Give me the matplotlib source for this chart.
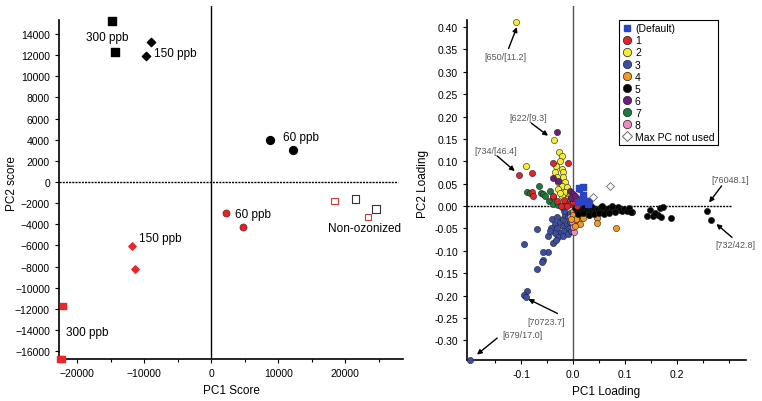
import matplotlib.pyplot as plt
from matplotlib.lines import Line2D
from matplotlib.ticker import MultipleLocator, FuncFormatter

plt.rcParams['font.family'] = ['Liberation Sans', 'DejaVu Sans']

# ---- left panel: PCA scores ----
black_sq_x = [-14800, -14300]
black_sq_y = [15200, 12300]
black_dia_x = [-9000, -9700]
black_dia_y = [13200, 11900]
black_circ_x = [8800, 12200]
black_circ_y = [4000, 3000]
red_circ_x = [2200, 4800]
red_circ_y = [-2900, -4300]
red_dia_x = [-11800, -11300]
red_dia_y = [-6050, -8200]
red_sq_x = [-22100, -22200, -22500]
red_sq_y = [-11700, -16750, -16750]
nonoz_black_x = [21500, 24600]
nonoz_black_y = [-1600, -2550]
nonoz_red_x = [18400, 23400]
nonoz_red_y = [-1800, -3300]

score_labels = [("300 ppb", -18700, 13700), ("150 ppb", -8600, 12200),
                ("60 ppb", 10700, 4300), ("60 ppb", 3600, -3050),
                ("150 ppb", -10700, -5300), ("300 ppb", -21600, -14200),
                ("Non-ozonized", 17400, -4400)]

# ---- right panel: PCA loadings by cluster ----
yellow_x = [-0.110, -0.037, -0.090, -0.027, -0.021, -0.025, -0.033, -0.035, -0.021,
            -0.019, -0.031, -0.019, -0.029, -0.015, -0.021, -0.012, -0.029, -0.015,
            -0.008, -0.021, -0.012, -0.010, -0.025, -0.005, -0.017]
yellow_y = [0.411, 0.148, 0.089, 0.121, 0.112, 0.101, 0.090, 0.076, 0.083,
            0.076, 0.065, 0.065, 0.054, 0.054, 0.045, 0.042, 0.038, 0.031,
            0.022, 0.022, 0.016, 0.011, 0.030, 0.030, 0.005]
red_x = [-0.104, -0.079, -0.038, -0.010, 0.012, -0.079, -0.077, -0.038, -0.015,
         -0.006, 0.000, 0.008, -0.012, -0.024, -0.003, -0.030, 0.005, -0.018]
red_y = [0.069, 0.074, 0.096, 0.096, 0.038, 0.031, 0.022, 0.022, 0.009,
         0.004, 0.009, 0.000, -0.001, 0.001, 0.018, 0.012, 0.015, 0.014]
green_x = [-0.065, -0.088, -0.062, -0.044, -0.046, -0.038, -0.058, -0.038,
           -0.028, -0.022, -0.053, -0.082]
green_y = [0.045, 0.031, 0.029, 0.034, 0.011, 0.020, 0.027, 0.004,
           0.003, -0.002, 0.022, 0.030]
purple_x = [-0.031, -0.038, -0.006, 0.000, -0.004, 0.004, -0.028]
purple_y = [0.165, 0.063, 0.034, 0.027, 0.018, 0.022, 0.055]
default_x = [0.012, 0.019, 0.017, 0.023, 0.010, 0.028, 0.020, 0.031]
default_y = [0.040, 0.042, 0.016, 0.011, 0.009, 0.004, 0.024, 0.012]
unused_x = [0.071, 0.038]
unused_y = [0.045, 0.020]
black_x = [0.003, 0.008, 0.012, 0.015, 0.018, 0.021, 0.024, 0.027, 0.030, 0.033,
           0.036, 0.039, 0.042, 0.045, 0.048, 0.051, 0.054, 0.057, 0.060, 0.063,
           0.066, 0.069, 0.072, 0.075, 0.078, 0.081, 0.084, 0.087, 0.090, 0.094,
           0.098, 0.103, 0.108, 0.113,
           0.010, 0.020, 0.030, 0.040, 0.050, 0.060, 0.070, 0.080, 0.035, 0.055,
           0.075, 0.025,
           0.111, 0.142, 0.148, 0.154, 0.163, 0.167, 0.173, 0.169, 0.188, 0.158,
           0.257, 0.265]
black_y = [-0.004, -0.010, -0.006, -0.014, -0.008, -0.003, -0.012, -0.007, -0.015, -0.005,
           -0.011, -0.004, -0.013, -0.008, -0.006, -0.012, -0.003, -0.009, -0.014, -0.006,
           -0.010, -0.004, -0.012, -0.008, -0.005, -0.011, -0.007, -0.003, -0.009, -0.012,
           -0.006, -0.010, -0.005, -0.013,
           -0.018, -0.016, -0.019, -0.017, -0.015, -0.018, -0.016, -0.014, -0.001, 0.000,
           -0.001, 0.001,
           -0.014, -0.022, -0.009, -0.022, -0.020, -0.005, -0.002, -0.025, -0.027, -0.016,
           -0.012, -0.031]
orange_x = [0.000, 0.014, 0.010, 0.017, 0.000, 0.010, 0.014, 0.004, 0.019, 0.046,
            0.046, 0.083, 0.006, 0.020, 0.026, -0.004, 0.030]
orange_y = [-0.011, -0.015, -0.022, -0.017, -0.020, -0.033, -0.040, -0.045, -0.007, -0.027,
            -0.038, -0.050, -0.028, -0.026, -0.012, -0.030, -0.020]
pink_x = [0.002, -0.002, 0.000, -0.006, 0.004]
pink_y = [-0.058, -0.036, -0.047, -0.024, -0.017]
blue_x = [-0.198, -0.094, -0.069, -0.048, -0.038, -0.048, -0.058, -0.058, -0.060,
          -0.069, -0.088, -0.094, -0.091,
          -0.040, -0.035, -0.030, -0.025, -0.020, -0.015, -0.010, -0.030, -0.020,
          -0.012, -0.005, -0.025, -0.017, -0.008, -0.035, -0.042, -0.028, -0.020,
          -0.010, -0.005, -0.018, -0.003, -0.033, -0.045]
blue_y = [-0.344, -0.084, -0.052, -0.067, -0.083, -0.103, -0.103, -0.120, -0.126,
          -0.141, -0.190, -0.198, -0.203,
          -0.030, -0.040, -0.025, -0.035, -0.030, -0.020, -0.025, -0.050, -0.045,
          -0.040, -0.035, -0.060, -0.055, -0.050, -0.060, -0.048, -0.070, -0.068,
          -0.062, -0.015, -0.010, -0.055, -0.075, -0.056]

# (text, text_x, text_y, tip_x, tip_y, arrow_start_x, arrow_start_y)
loading_notes = [("[650/[11.2]", -0.130, 0.335, -0.108, 0.400, -0.124, 0.352),
                 ("[622/[9.3]", -0.087, 0.198, -0.048, 0.157, -0.080, 0.185),
                 ("[734/[46.4]", -0.148, 0.124, -0.112, 0.078, -0.146, 0.112),
                 ("[76048.1]", 0.302, 0.060, 0.262, 0.008, 0.286, 0.045),
                 ("[732/42.8]", 0.313, -0.087, 0.276, -0.040, 0.306, -0.070),
                 ("[70723.7]", -0.052, -0.257, -0.086, -0.208, -0.030, -0.240),
                 ("[679/17.0]", -0.098, -0.286, -0.185, -0.332, -0.146, -0.295)]

fig = plt.figure(figsize=(7.62, 4.02), dpi=100)

# ---------------- left ----------------
ax1 = fig.add_axes([0.0774, 0.1045, 0.4514, 0.878])
ax1.set_xlim(-22700, 28600)
ax1.set_ylim(-16750, 16650)
ax1.axvline(0, color='black', lw=1.0, zorder=1)
ax1.plot([-22700, 27800], [0, 0], color='black', lw=1.0, ls=(0, (1.5, 0.8)), zorder=1)

ax1.scatter(black_sq_x, black_sq_y, marker='s', s=30, color='black', zorder=3)
ax1.scatter(black_dia_x, black_dia_y, marker='D', s=18, color='black', zorder=3)
ax1.scatter(black_circ_x, black_circ_y, marker='o', s=32, color='black', zorder=3)
ax1.scatter(red_circ_x, red_circ_y, marker='o', s=26, color='#d8262c',
            edgecolor='#8a1a1a', lw=0.5, zorder=3)
ax1.scatter(red_dia_x, red_dia_y, marker='D', s=14, color='#e8262c', zorder=3)
ax1.scatter(red_sq_x, red_sq_y, marker='s', s=24, color='#e8262c', zorder=3, clip_on=False)
ax1.scatter(nonoz_black_x, nonoz_black_y, marker='s', s=30, facecolor='none',
            edgecolor='#333333', lw=0.8, zorder=3)
ax1.scatter(nonoz_red_x, nonoz_red_y, marker='s', s=22, facecolor='none',
            edgecolor='#c8403c', lw=0.8, zorder=3)
for txt, tx, ty in score_labels:
    ax1.text(tx, ty, txt, fontsize=8.5, va='center', ha='left')

ax1.spines['top'].set_visible(False)
ax1.spines['right'].set_visible(False)
ax1.spines['left'].set_bounds(-16750, 15300)
ax1.spines['left'].set_linewidth(1.2)
ax1.spines['bottom'].set_linewidth(1.2)
ax1.set_yticks(range(-16000, 14001, 2000))
ax1.set_xticks([-20000, -10000, 0, 10000, 20000])
ax1.xaxis.set_minor_locator(MultipleLocator(5000))
ax1.tick_params(labelsize=7.5, length=3, width=0.8)
ax1.tick_params(which='minor', length=2, width=0.8)
ax1.set_xlabel("PC1 Score", fontsize=8.5)
ax1.set_ylabel("PC2 score", fontsize=8.5, labelpad=-2)

# ---------------- right ----------------
ax2 = fig.add_axes([0.6129, 0.102, 0.3661, 0.8806])
ax2.set_xlim(-0.204, 0.333)
ax2.set_ylim(-0.344, 0.447)
ax2.axvline(0, color='#555555', lw=1.0, zorder=1)
ax2.plot([-0.204, 0.306], [0, 0], color='black', lw=1.0, ls=(0, (1.5, 0.8)), zorder=1)

edge = dict(edgecolor='#222222', linewidths=0.4, s=20, zorder=3)
ax2.scatter(blue_x, blue_y, color='#3a4ea6', clip_on=False, **edge)
ax2.scatter(pink_x, pink_y, color='#f08cc0', **edge)
ax2.scatter(orange_x, orange_y, color='#f39a1f', **edge)
ax2.scatter(black_x, black_y, color='black', **edge)
ax2.scatter(green_x, green_y, color='#1c7b3c', **edge)
ax2.scatter(yellow_x, yellow_y, color='#f4ee2e', **edge)
ax2.scatter(red_x, red_y, color='#e0242a', **edge)
ax2.scatter(purple_x, purple_y, color='#6b1f7b', **edge)
ax2.scatter(default_x, default_y, marker='s', color='#2a44c8', s=18, zorder=3)
ax2.scatter(unused_x, unused_y, marker='D', facecolor='white', edgecolor='#666666',
            s=16, linewidths=0.6, zorder=3)

for txt, tx, ty, px, py, sx, sy in loading_notes:
    ax2.text(tx, ty, txt, fontsize=6.5, color='#555555', ha='center', va='center')
    ax2.annotate("", xy=(px, py), xytext=(sx, sy),
                 arrowprops=dict(arrowstyle='-|>', color='black', lw=1.0,
                                 mutation_scale=7, shrinkA=0, shrinkB=0))

ax2.spines['top'].set_visible(False)
ax2.spines['right'].set_visible(False)
ax2.spines['left'].set_bounds(-0.344, 0.416)
ax2.spines['left'].set_linewidth(1.2)
ax2.spines['bottom'].set_linewidth(1.2)
ax2.set_yticks([-0.30, -0.25, -0.20, -0.15, -0.10, -0.05, 0.0, 0.05, 0.10,
                0.15, 0.20, 0.25, 0.30, 0.35, 0.40])
ax2.yaxis.set_major_formatter(FuncFormatter(lambda v, p: f"{v:.2f}"))
ax2.set_xticks([-0.1, 0.0, 0.1, 0.2])
ax2.xaxis.set_major_formatter(FuncFormatter(lambda v, p: f"{v:.1f}"))
ax2.xaxis.set_minor_locator(MultipleLocator(0.05))
ax2.tick_params(labelsize=7.5, length=3, width=0.8)
ax2.tick_params(which='minor', length=2, width=0.8)
ax2.set_xlabel("PC1 Loading", fontsize=8.5)
ax2.set_ylabel("PC2 Loading", fontsize=8.5)

handles = [Line2D([], [], marker='s', color='#2a44c8', ls='', markersize=5),
           Line2D([], [], marker='o', color='#e0242a', mec='#222222', mew=0.5, ls='', markersize=6),
           Line2D([], [], marker='o', color='#f4ee2e', mec='#222222', mew=0.5, ls='', markersize=6),
           Line2D([], [], marker='o', color='#3a4ea6', mec='#222222', mew=0.5, ls='', markersize=6),
           Line2D([], [], marker='o', color='#f39a1f', mec='#222222', mew=0.5, ls='', markersize=6),
           Line2D([], [], marker='o', color='black', mec='#222222', mew=0.5, ls='', markersize=6),
           Line2D([], [], marker='o', color='#6b1f7b', mec='#222222', mew=0.5, ls='', markersize=6),
           Line2D([], [], marker='o', color='#1c7b3c', mec='#222222', mew=0.5, ls='', markersize=6),
           Line2D([], [], marker='o', color='#f08cc0', mec='#222222', mew=0.5, ls='', markersize=6),
           Line2D([], [], marker='D', mfc='white', mec='#666666', mew=0.7, ls='', markersize=5)]
names = ["(Default)", "1", "2", "3", "4", "5", "6", "7", "8", "Max PC not used"]
leg = ax2.legend(handles, names, loc='upper left', bbox_to_anchor=(0.546, 0.96),
                 fontsize=7.5, frameon=True, fancybox=False, edgecolor='black',
                 framealpha=1, borderpad=0.3, labelspacing=0.2, handlelength=0.8,
                 handletextpad=0.4, borderaxespad=0)
leg.get_frame().set_linewidth(0.8)

plt.savefig("out.png", dpi=100)
plt.close()
